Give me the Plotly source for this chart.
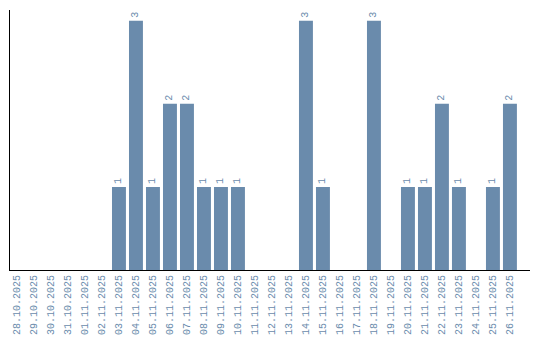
import plotly.graph_objects as go

dates = ["28.10.2025", "29.10.2025", "30.10.2025", "31.10.2025", "01.11.2025",
         "02.11.2025", "03.11.2025", "04.11.2025", "05.11.2025", "06.11.2025",
         "07.11.2025", "08.11.2025", "09.11.2025", "10.11.2025", "11.11.2025",
         "12.11.2025", "13.11.2025", "14.11.2025", "15.11.2025", "16.11.2025",
         "17.11.2025", "18.11.2025", "19.11.2025", "20.11.2025", "21.11.2025",
         "22.11.2025", "23.11.2025", "24.11.2025", "25.11.2025", "26.11.2025"]
counts = [0, 0, 0, 0, 0, 0, 1, 3, 1, 2, 2, 1, 1, 1, 0, 0, 0, 3, 1, 0,
          0, 3, 0, 1, 1, 2, 1, 0, 1, 2]

bar_color = "#6a8bac"
font = "Liberation Mono"

labels = [str(v) if v > 0 else "" for v in counts]

fig = go.Figure(go.Bar(
    x=dates, y=counts,
    marker=dict(color=bar_color, line=dict(width=0)),
    text=labels, textposition="outside", textangle=-90,
    textfont=dict(family=font, size=10, color=bar_color),
    cliponaxis=False,
))

fig.update_layout(
    width=540, height=340,
    margin=dict(l=10, r=10, t=10, b=70, autoexpand=False),
    paper_bgcolor="white", plot_bgcolor="white",
    bargap=0.18,
    showlegend=False,
    font=dict(family=font, size=10, color=bar_color),
)
fig.update_xaxes(
    type="category", range=[-0.41, 30.18], automargin=False,
    tickangle=-90, tickfont=dict(family=font, size=10, color=bar_color),
    showline=True, linecolor="black", linewidth=1,
    showgrid=False, ticks="", zeroline=False,
)
fig.update_yaxes(
    range=[0, 3.13], showticklabels=False, ticks="", automargin=False,
    showline=True, linecolor="black", linewidth=1,
    showgrid=False, zeroline=False,
)

fig.write_html("out.html")
